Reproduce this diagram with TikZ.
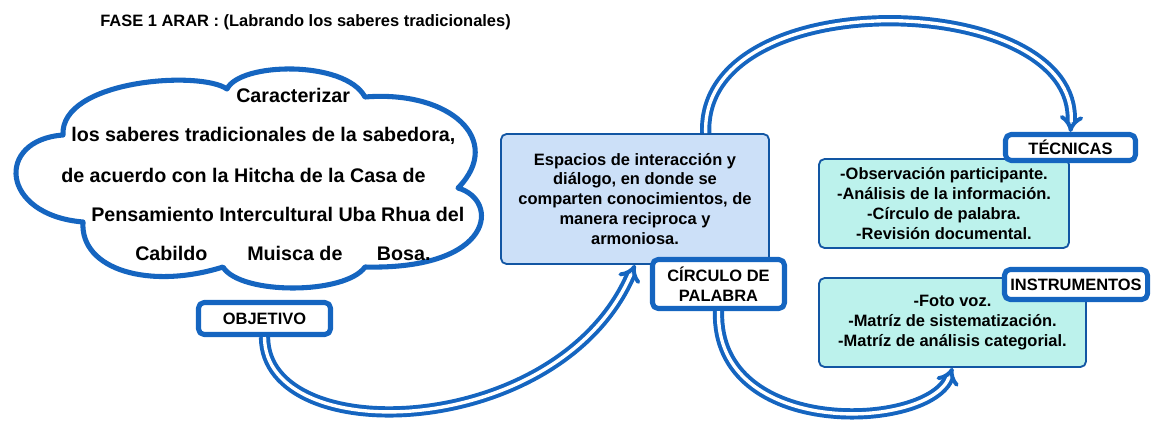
\documentclass[tikz,border=0pt]{standalone}
\usepackage{fontspec}
\setmainfont{Liberation Sans}
\usetikzlibrary{arrows.meta}
\definecolor{azul}{RGB}{21,101,192}
\definecolor{celeste}{RGB}{204,224,248}
\definecolor{aguamarina}{RGB}{188,242,236}
\begin{document}
\begin{tikzpicture}[x=0.025cm,y=-0.025cm,line join=round,
	marco/.style={draw=azul,line width=3.6pt,fill=white,rounded corners=4pt,align=center,inner sep=0pt,font=\bfseries\fontsize{11.7}{14.2}\selectfont},
	caja/.style={draw=azul!85!black,line width=1.3pt,rounded corners=4pt,align=center,inner sep=0pt,font=\bfseries\fontsize{11.7}{14.2}\selectfont},
	nube/.style={anchor=west,inner sep=0pt,font=\bfseries\fontsize{14}{16}\selectfont},
	flecha/.style={draw=azul,line width=2.8pt,double=white,double distance=2.4pt,-{Implies[scale=1.2]}}]
		\useasboundingbox (0,0) rectangle (1151,423);
		\node[anchor=west,inner sep=0pt,font=\bfseries\fontsize{11.7}{14}\selectfont] (titulo) at (100,22) {FASE 1 ARAR : (Labrando los saberes tradicionales)};
		\draw[azul,line width=3.6pt,fill=white] (227,89) .. controls (240,62) and (345,60) .. (365,97) .. controls (450,90) and (505,140) .. (458,188) .. controls (500,200) and (495,270) .. (365,267) .. controls (345,295) and (240,295) .. (223,267) .. controls (150,290) and (80,270) .. (83,222) .. controls (0,215) and (-5,140) .. (63,135) .. controls (60,80) and (200,70) .. cycle;
		\node[nube] (linea1) at (236,95) {Caracterizar};
		\node[nube] (linea2) at (71,136) {los saberes tradicionales de la sabedora,};
		\node[nube] (linea3) at (61,175) {de acuerdo con la Hitcha de la Casa de};
		\node[nube] (linea4) at (91,214) {Pensamiento Intercultural Uba Rhua del};
		\node[nube] (linea5) at (135,253) {Cabildo\hspace{28.3pt}Muisca de\hspace{24.5pt}Bosa.};
		\node[marco,minimum width=3.3cm,minimum height=0.8cm] (objetivo) at (264.5,318.5) {OBJETIVO};
		\node[caja,fill=celeste,minimum width=6.7cm,minimum height=3.25cm] (espacios) at (635,199) {Espacios de interacción y\\diálogo, en donde se\\comparten conocimientos, de\\manera reciproca y\\armoniosa.};
		\node[marco,minimum width=3.3cm,minimum height=1.225cm] (circulo) at (718.5,284) {CÍRCULO DE\\PALABRA};
		\node[caja,fill=aguamarina,minimum width=6.25cm,minimum height=2.225cm] (teclista) at (944,203.5) {-Observación participante.\\-Análisis de la información.\\-Círculo de palabra.\\-Revisión documental.};
		\node[marco,minimum width=3.25cm,minimum height=0.65cm] (tecnicas) at (1070.5,147.5) {TÉCNICAS};
		\node[caja,fill=aguamarina,minimum width=6.675cm,minimum height=2.225cm] (instlista) at (952.5,322.5) {-Foto voz.\\-Matríz de sistematización.\\-Matríz de análisis categorial.};
		\node[marco,minimum width=3.575cm,minimum height=0.75cm] (instrumentos) at (1076,284.5) {INSTRUMENTOS};
		\draw[flecha] (objetivo.south) .. controls (265,450) and (560,440) .. (espacios.south);
		\draw[flecha] (espacios.43) .. controls (700,-20) and (1080,-10) .. (tecnicas.north);
		\draw[flecha] (circulo.south) .. controls (715,440) and (930,430) .. (instlista.south);
\end{tikzpicture}
\end{document}
